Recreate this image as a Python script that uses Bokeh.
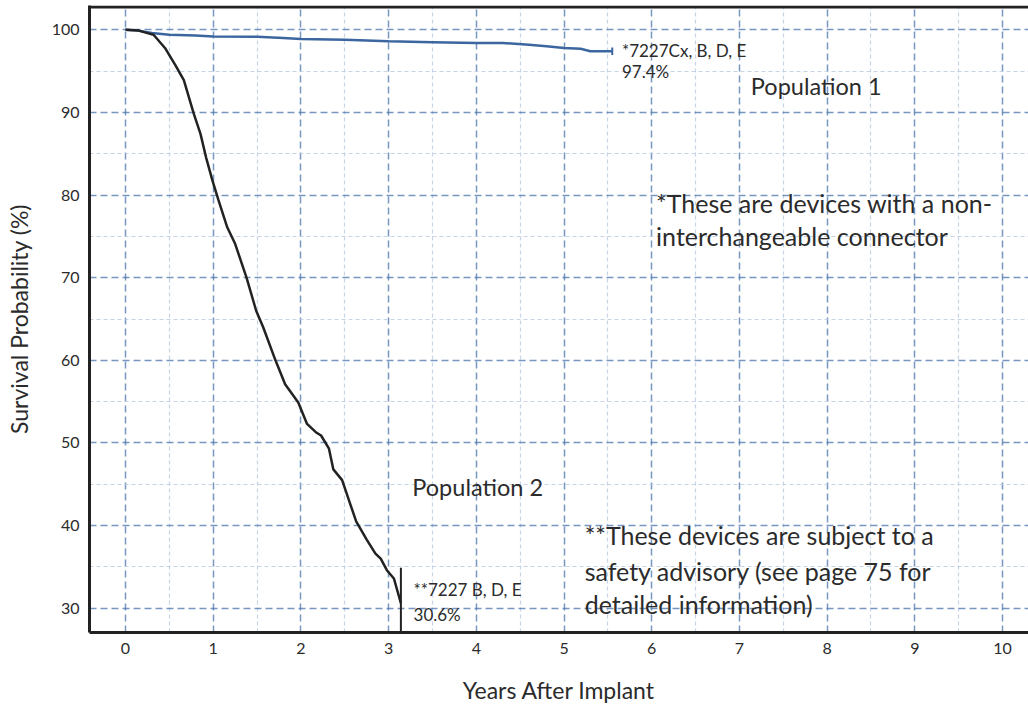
from bokeh.plotting import figure
from bokeh.models import FixedTicker, Label, Span, Range1d
from bokeh.embed import file_html
from bokeh.resources import INLINE

# ---- data ----
years_pop2 = [0.0, 0.15, 0.25, 0.32, 0.45, 0.57, 0.665, 0.78, 0.855, 0.92, 0.99, 1.06,
              1.16, 1.25, 1.38, 1.49, 1.57, 1.71, 1.82, 1.97, 2.07, 2.17, 2.23, 2.32,
              2.37, 2.47, 2.55, 2.63, 2.75, 2.85, 2.91, 2.98, 3.06, 3.14]
surv_pop2 = [100.0, 99.9, 99.6, 99.4, 97.8, 95.7, 93.9, 89.8, 87.4, 84.5, 81.8, 79.4,
             76.1, 74.1, 70.0, 66.0, 64.0, 60.0, 57.1, 54.9, 52.3, 51.3, 50.9, 49.3,
             46.8, 45.5, 43.0, 40.5, 38.3, 36.6, 36.0, 34.6, 33.6, 30.6]

years_pop1 = [0.0, 0.15, 0.3, 0.5, 0.8, 1.0, 1.5, 1.8, 2.0, 2.5, 3.0, 3.5, 4.0, 4.3,
              4.6, 4.8, 5.0, 5.19, 5.3, 5.55]
surv_pop1 = [100.0, 99.9, 99.6, 99.4, 99.3, 99.2, 99.15, 99.0, 98.9, 98.8, 98.6, 98.5,
             98.4, 98.4, 98.2, 98.0, 97.8, 97.7, 97.4, 97.4]

pop1_end_year = 5.55
pop1_tick_low, pop1_tick_high = 96.95, 97.85
pop2_end_year = 3.14
pop2_drop_top = 34.9

x_ticks = list(range(0, 11))
x_minor = [i + 0.5 for i in range(10)]
y_ticks = list(range(30, 101, 10))
y_minor = list(range(35, 100, 10))

X_START, X_END = -0.4105, 10.296
Y_START, Y_END = 27.06, 102.94

TEXT = "#2b2b2b"
FONT = "Lato"

p = figure(width=1028, height=708, output_backend="svg", toolbar_location=None,
           x_range=Range1d(X_START, X_END), y_range=Range1d(Y_START, Y_END),
           min_border_left=89, min_border_right=0, min_border_top=5,
           min_border_bottom=76)
p.outline_line_color = None
p.background_fill_color = "white"
p.border_fill_color = "white"

p.xaxis.ticker = FixedTicker(ticks=x_ticks, minor_ticks=x_minor)
p.yaxis.ticker = FixedTicker(ticks=y_ticks, minor_ticks=y_minor)

for ax in (p.xaxis, p.yaxis):
    ax.axis_line_width = 3
    ax.axis_line_color = "#222222"
    ax.major_tick_line_color = None
    ax.minor_tick_line_color = None
    ax.major_tick_out = 0
    ax.major_tick_in = 0
    ax.minor_tick_out = 0
    ax.minor_tick_in = 0
    ax.major_label_text_font = FONT
    ax.major_label_text_font_size = "16px"
    ax.major_label_text_color = TEXT
    ax.major_label_standoff = 10
    ax.axis_label_text_font = FONT
    ax.axis_label_text_font_size = "23px"
    ax.axis_label_text_font_style = "normal"
    ax.axis_label_text_color = TEXT

p.xaxis.axis_label = "Years After Implant"
p.yaxis.axis_label = "Survival Probability (%)"
p.xaxis.axis_label_standoff = 19
p.yaxis.axis_label_standoff = 16

for g in (p.xgrid, p.ygrid):
    g.grid_line_color = "#4a74ab"
    g.grid_line_alpha = 0.75
    g.grid_line_width = 1.5
    g.grid_line_dash = "7 4"
    g.minor_grid_line_color = "#b9c9df"
    g.minor_grid_line_alpha = 0.8
    g.minor_grid_line_width = 1.2
    g.minor_grid_line_dash = "4 3"

# thick top frame line
p.add_layout(Span(location=Y_END - 0.18, dimension="width", line_color="#222222",
                  line_width=3))

p.line(years_pop1, surv_pop1, line_color="#3b66a0", line_width=2.5)
p.segment(x0=[pop1_end_year], y0=[pop1_tick_low], x1=[pop1_end_year],
          y1=[pop1_tick_high], line_color="#3b66a0", line_width=2)

p.line(years_pop2, surv_pop2, line_color="#222222", line_width=2.5)
p.segment(x0=[pop2_end_year], y0=[pop2_drop_top], x1=[pop2_end_year],
          y1=[Y_START], line_color="#222222", line_width=2)

labels = [
    (5.66, 97.48, "*7227Cx, B, D, E", "17px"),
    (5.66, 94.90, "97.4%", "17px"),
    (7.13, 93.25, "Population 1", "23.5px"),
    (6.05, 79.08, "*These are devices with a non-", "25px"),
    (6.05, 75.00, "interchangeable connector", "25px"),
    (3.27, 44.70, "Population 2", "23.5px"),
    (5.235, 38.89, "**These devices are subject to a", "25px"),
    (5.235, 34.53, "safety advisory (see page 75 for", "25px"),
    (5.235, 30.53, "detailed information)", "25px"),
    (3.284, 32.31, "**7227 B, D, E", "17px"),
    (3.284, 29.28, "30.6%", "17px"),
]
for lx, ly, txt, size in labels:
    p.add_layout(Label(x=lx, y=ly, text=txt, text_font=FONT, text_font_size=size,
                       text_color=TEXT, text_baseline="alphabetic", text_align="left"))

open("out.html", "w").write(file_html(p, INLINE))
